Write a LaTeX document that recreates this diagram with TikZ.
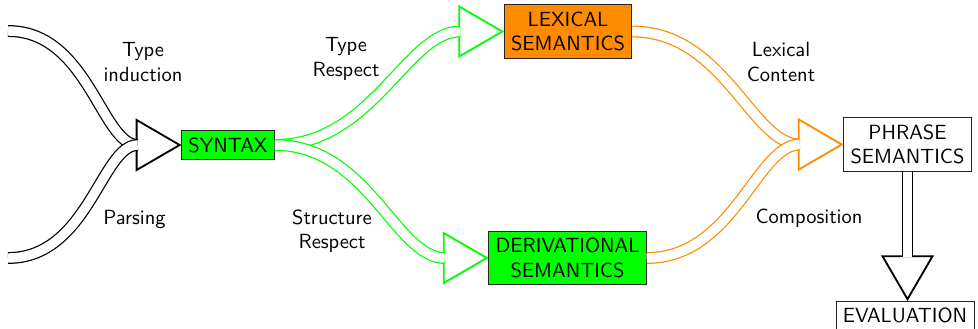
\documentclass[tikz,border=0pt]{standalone}
\usetikzlibrary{calc}
\definecolor{synGreen}{RGB}{0,255,0}
\definecolor{lexOrange}{RGB}{255,140,0}
\tikzset{
  box/.style={draw=black!85, inner sep=0.3333em, align=center, font=\sffamily},
  lbl/.style={align=center, font=\sffamily},
  pipe/.style={draw=#1, double=white, double distance=4.6pt, line width=0.6pt},
  arrowhd/.style={draw=#1, fill=white, line width=0.9pt, line join=miter},
}
\begin{document}
\begin{tikzpicture}[x=0.4878pt, y=-0.4878pt]
\useasboundingbox (0,0) rectangle (978,328);

% boxes
\node[box, fill=synGreen] (syn) at (228,145) {SYNTAX};
\node[box, fill=lexOrange] (lex) at (568,31.5) {LEXICAL\\SEMANTICS};
\node[box, fill=synGreen] (der) at (567.5,258) {DERIVATIONAL\\SEMANTICS};
\node[box] (phr) at (907.5,144.5) {PHRASE\\SEMANTICS};
\node[box] (ev) at (905,315.5) {EVALUATION};

% labels
\node[lbl] (lti) at (143,62) {Type\\induction};
\node[lbl] (lpa) at (134.5,219) {Parsing};
\node[lbl] (ltr) at (346,59) {Type\\Respect};
\node[lbl] (lsr) at (332,231) {Structure\\Respect};
\node[lbl] (llc) at (781,62) {Lexical\\Content};
\node[lbl] (lco) at (809,218.5) {Composition};

% free ends on the left
\coordinate (ti) at (8,31);
\coordinate (pa) at (8,258);

% tips and shaft ends
\coordinate (synT) at ($(syn.west)+(-1.5,0)$);
\coordinate (synE) at ($(synT)+(-42,0)$);
\coordinate (lexT) at ($(lex.west)+(-1.5,0)$);
\coordinate (lexE) at ($(lexT)+(-42,0)$);
\coordinate (derT) at ($(der.west)+(-1.5,0)$);
\coordinate (derE) at ($(derT)+(-42,0)$);
\coordinate (phrT) at ($(phr.west)+(-1.5,0)$);
\coordinate (phrE) at ($(phrT)+(-42,0)$);
\coordinate (evT) at ($(phr.south |- ev.north)+(0,-1.5)$);
\coordinate (evE) at ($(evT)+(0,-42)$);

% into SYNTAX
\draw[arrowhd=black] ($(synT)+(-43,-25)$) -- (synT) -- ($(synT)+(-43,25)$) -- cycle;
\draw[pipe=black] (ti) .. controls +(80,0) and +(-36,0) .. (synE);
\draw[pipe=black] (pa) .. controls +(80,0) and +(-36,0) .. (synE);

% out of SYNTAX
\draw[arrowhd=synGreen] ($(lexT)+(-43,-25)$) -- (lexT) -- ($(lexT)+(-43,25)$) -- cycle;
\draw[arrowhd=synGreen] ($(derT)+(-43,-25)$) -- (derT) -- ($(derT)+(-43,25)$) -- cycle;
\draw[pipe=synGreen] (syn.east) .. controls +(98,0) and +(-54,0) .. (lexE);
\draw[pipe=synGreen] (syn.east) .. controls +(93,0) and +(-49,0) .. (derE);

% into PHRASE SEMANTICS
\draw[arrowhd=lexOrange] ($(phrT)+(-43,-25)$) -- (phrT) -- ($(phrT)+(-43,25)$) -- cycle;
\draw[pipe=lexOrange] (lex.east) .. controls +(92,0) and +(-48,0) .. (phrE);
\draw[pipe=lexOrange] (der.east) .. controls +(87,0) and +(-43,0) .. (phrE);

% down to EVALUATION
\draw[arrowhd=black] ($(evT)+(-25,-43)$) -- (evT) -- ($(evT)+(25,-43)$) -- cycle;
\draw[pipe=black] (phr.south) -- (evE);
\end{tikzpicture}
\end{document}
